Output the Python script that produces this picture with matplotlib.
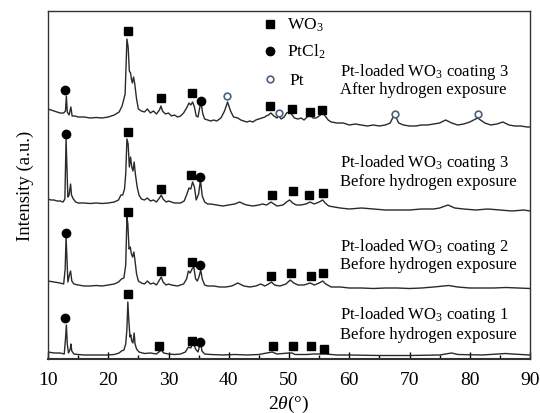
import matplotlib
matplotlib.use("Agg")
import matplotlib.pyplot as plt
import numpy as np

plt.rcParams['font.family'] = ['Liberation Serif', 'DejaVu Serif']
plt.rcParams['mathtext.fontset'] = 'custom'
plt.rcParams['mathtext.rm'] = 'Liberation Serif'
plt.rcParams['mathtext.it'] = 'Liberation Serif:italic'

# ---- data (2theta in degrees, intensity in arbitrary stacked units) ----
x_after3 = [10.0,10.5,11.0,11.5,12.0,12.6,12.9,13.05,13.2,13.5,13.8,14.0,14.5,15,16,17,18,19,20,21,21.8,22.3,22.8,23.1,23.3,23.5,23.7,23.85,24.0,24.2,24.4,24.7,25.0,25.5,26.0,26.5,27.0,27.5,28.0,28.5,28.75,29.0,29.5,30.0,30.5,31.0,31.5,32.0,32.5,33.0,33.4,33.7,34.0,34.3,34.6,34.9,35.2,35.4,35.7,36.0,36.5,37.0,37.5,38.0,38.7,39.3,39.8,40.3,40.8,41.5,42,42.5,43,43.5,44,44.5,45,45.5,46,46.2,46.6,47,47.5,48.0,48.3,48.7,49.2,49.6,50.0,50.4,50.9,51.5,52,52.5,53,53.5,54,54.5,55.0,55.6,56.0,56.5,57.0,58,59,60,61,62,63,64,65,66,66.8,67.5,68.2,69,70,71,72,73,74,75,76,77,78,79,80,81.3,82.5,83.5,84.5,85.5,86.5,87.5,88.5,89.5,90]
y_after3 = [250,249,248,247,246,246,248,263,247,244,252,243,243,242,242,241,241.5,241,242,244,247,253,265,320,312,288,286,280,276,282,275,260,250,248,247,250,246,248,245,249,253,248,245,246,243,244,242,243,246,251,256,254,257,252,243,242,252,256,245,240,239,238,239,238,241,248,257,248,242,241,239,238,237,238,237,239,240,241,242,243,244,246,243,241,243,240,242,246,247,245,241,240,241,239,242,244,241,241,243,246,243,239,237,236,236,234,235,234,233,234,233,234,236,245,236,234,233,233,234,234,235,236,239,236,234,235,237,241,236,234,235,237,234,233,233,232,232]

x_before3 = [10.0,10.5,11,11.5,12.0,12.5,12.8,13.0,13.15,13.3,13.5,13.75,13.9,14.2,14.6,15,16,17,18,19,20,21,21.7,22.1,22.4,22.7,22.9,23.1,23.3,23.5,23.7,23.9,24.1,24.3,24.5,24.8,25.1,25.5,26,26.5,27,27.5,28,28.5,28.8,29.1,29.6,30,30.5,31,32,32.6,33.0,33.4,33.7,34.0,34.3,34.6,35.0,35.3,35.6,36,36.5,37,38,39,40,41,41.8,42.5,43,44,45,45.6,46.3,47,47.5,48,49,49.6,50.1,50.6,51.2,52,52.8,53.5,54.2,55,55.6,56,56.6,57.5,58.5,60,62,64,66,68,70,72,74,75,76.4,77.5,79,81,83,85,87,89,90]
y_before3 = [160,159,159,158,158,157,160,220,190,162,164,175,164,160,157,156,156,155.5,156,155.5,156,157,159,164,164,170,185,220,215,192,202,192,188,197,185,172,164,160,159,161,158,159,157,161,164,160,157,158,157,156,156,158,164,171,170,177,172,159,165,179,163,157,155,155,154,153,154,155,157,155,154,153,154,155,154,157,155,153,154,157,159,156,154,154,155,157,155,157,159,156,153,152,151,150,151,150,149,149,149,150,150,151,154,151,150,149,150,149,148,149,148]

x_before2 = [10.0,11,12,12.6,12.85,13.0,13.15,13.3,13.55,13.75,13.95,14.3,15,16,17,18,19,20,21,21.7,22.2,22.6,22.9,23.1,23.25,23.45,23.65,23.85,24.05,24.25,24.45,24.7,25.0,25.5,26,26.5,27,27.5,28,28.5,28.8,29.1,29.6,30,30.5,31.5,32.5,33,33.3,33.6,33.9,34.2,34.5,34.8,35.1,35.35,35.6,36,36.5,37.5,38.5,39.5,40.5,41.5,42.5,43.5,44.5,45.3,46,46.6,47.1,47.6,48.5,49.5,50.2,50.8,51.5,52.5,53.5,54.2,55,55.6,56.1,57,58.5,60,62,64,66,68,70,72,74,76.5,78,80,82,84,86,88,90]
y_before2 = [78,77,76,75,90,122,100,77,84,88,78,75,74,73,73,73.5,73,74,75,77,80,81,94,142,135,110,112,105,102,107,98,85,78,76,75,78,75,76,74,79,82,77,74,75,74,73,75,80,88,86,90,92,80,78,83,89,80,74,73,73,72,72,73,76,73,72,73,75,73,75,77,74,73,75,79,76,74,74,76,74,76,78,75,72,72,71,71,70.5,71,71,70.5,71,72,73.5,72,71,71,71,71.5,71,70.5]

x_before1 = [10,11,12,12.7,12.9,13.05,13.2,13.4,13.7,13.8,13.95,14.3,15,16,18,20,21,21.8,22.2,22.6,22.9,23.1,23.25,23.4,23.6,23.75,23.9,24.1,24.3,24.45,24.7,25.1,26,27,28,28.4,28.8,29.2,30,31,32,32.8,33.3,33.7,34.1,34.5,34.9,35.2,35.35,35.55,36,37,39,41,43,45,47.2,48,50,50.5,51,53,54,56,58,60,65,70,75,77,78,82,86,87,90]
y_before1 = [7,6,6,5,20,34,15,6,10,15,8,5,4.5,4,4,4,4.5,6,8,9,15,30,57,40,22,24,18,16,26,15,10,7,5.5,6,5,7,9,6,5,4.5,5,7,12,11,17,10,7,14,17,8,5,4.5,4,4.5,4,4.5,7,5,6,6,4.5,4.5,5,5,4,4,3.5,3.5,4,6,4.5,4,5.5,5,4]

# phase markers (x, y) per pattern
wo3_x = [23.3, 28.7, 33.9, 46.8, 50.5, 53.5, 55.5,
         23.3, 28.8, 33.8, 47.2, 50.6, 53.3, 55.6,
         23.3, 28.7, 33.9, 47.0, 50.3, 53.6, 55.6,
         23.2, 28.5, 33.9, 47.3, 50.6, 53.6, 55.8]
wo3_y = [328, 261, 266, 253, 250, 247, 249,
         227, 170, 184, 164, 168, 164, 166,
         147, 88, 97, 83, 86, 83, 86,
         65, 13, 18, 13, 13, 13, 10]
ptcl2_x = [12.9, 35.4, 13.0, 35.2, 13.0, 35.2, 12.8, 35.3]
ptcl2_y = [269, 258, 225, 182, 126, 94, 41, 17]
pt_x = [39.7, 48.3, 67.6, 81.4]
pt_y = [263, 246, 245, 245]

labels = [("Pt-loaded WO$_3$ coating 3", "After hydrogen exposure", 288, 270),
          ("Pt-loaded WO$_3$ coating 3", "Before hydrogen exposure", 197, 178),
          ("Pt-loaded WO$_3$ coating 2", "Before hydrogen exposure", 113, 95),
          ("Pt-loaded WO$_3$ coating 1", "Before hydrogen exposure", 45, 25)]

# ---- figure ----
fig = plt.figure(figsize=(5.4, 4.14), dpi=100)
ax = fig.add_axes([48/540, 54/414, 482/540, 348/414])
ax.set_xlim(10, 90)
ax.set_ylim(0, 348)

lc = '#2a2a2a'
for xs, ys in [(x_after3, y_after3), (x_before3, y_before3),
               (x_before2, y_before2), (x_before1, y_before1)]:
    ax.plot(xs, ys, color=lc, lw=1.0)

ax.plot(wo3_x, wo3_y, 's', color='black', ms=5.8, ls='none')
ax.plot(ptcl2_x, ptcl2_y, 'o', color='black', ms=6, ls='none')
ax.plot(pt_x, pt_y, 'o', mfc='white', mec='#4a6080', mew=1.2, ms=4.8, ls='none')

# legend drawn manually
ax.plot([46.8], [335], 's', color='black', ms=5.8)
ax.plot([46.8], [308], 'o', color='black', ms=6)
ax.plot([46.8], [280], 'o', mfc='white', mec='#4a6080', mew=1.2, ms=4.8)
ax.text(49.6, 335, "WO$_3$", fontsize=12.5, va='center', ha='left')
ax.text(49.6, 308, "PtCl$_2$", fontsize=12.5, va='center', ha='left')
ax.text(50.0, 279, "Pt", fontsize=12.5, va='center', ha='left')

for l1, l2, y1, y2 in labels:
    ax.text(58.5, y1, l1, fontsize=12, va='center', ha='left')
    ax.text(58.5, y2, l2, fontsize=12, va='center', ha='left')

ax.set_xticks(np.arange(10, 91, 10))
ax.set_xticks(np.arange(15, 90, 10), minor=True)
ax.tick_params(axis='x', which='major', direction='in', length=5, width=1, labelsize=14, pad=9)
ax.tick_params(axis='x', which='minor', direction='in', length=3, width=1)
ax.set_yticks([])
for s in ax.spines.values():
    s.set_linewidth(1.0)
    s.set_color('#333333')
ax.spines['bottom'].set_linewidth(1.5)

ax.set_xlabel(r"2$\it{\theta}$(°)", fontsize=14, labelpad=3)
ax.set_ylabel("Intensity (a.u.)", fontsize=13.5, labelpad=10)

fig.savefig("out.png", dpi=100)
